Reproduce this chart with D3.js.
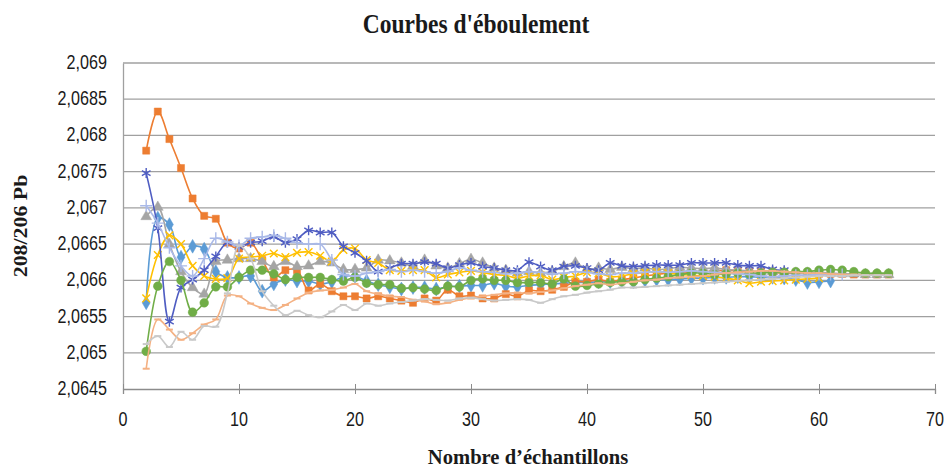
<!DOCTYPE html>
<html>
<head>
<meta charset="utf-8">
<script src="https://cdn.jsdelivr.net/npm/d3@7"></script>
<style>
  body { margin: 0; background: #fff; }
  svg { display: block; }
</style>
</head>
<body>
<svg id="chart" width="948" height="471"></svg>
<script>
// x of the first point of every series
const firstSample = 2;

const xTicks = [0, 10, 20, 30, 40, 50, 60, 70];
const yTicks = [2.0645, 2.065, 2.0655, 2.066, 2.0665, 2.067, 2.0675, 2.068, 2.0685, 2.069];

const blueDiamond = [2.06569, 2.06686, 2.06677, 2.06632, 2.06647, 2.06643, 2.06612, 2.06604, 2.06604, 2.06606,
  2.06585, 2.06595, 2.06601, 2.06599, 2.06599, 2.06595, 2.06598, 2.06605, 2.06606, 2.06599,
  2.06594, 2.06591, 2.06588, 2.0659, 2.0659, 2.06588, 2.06591, 2.06592, 2.06593, 2.06593,
  2.06596, 2.06592, 2.06591, 2.06593, 2.06594, 2.06595, 2.06596, 2.06597, 2.06597, 2.06598,
  2.06598, 2.06599, 2.06598, 2.066, 2.06601, 2.06601, 2.06602, 2.06603, 2.06603, 2.06604,
  2.06604, 2.06605, 2.06605, 2.06604, 2.06604, 2.06603, 2.06601, 2.06597, 2.06598, 2.06599];

const orangeSquare = [2.06779, 2.06833, 2.06795, 2.06755, 2.06713, 2.06689, 2.06685, 2.06652, 2.06644, 2.06652,
  2.06628, 2.06604, 2.06614, 2.06614, 2.06586, 2.06595, 2.06585, 2.06578, 2.06578, 2.06575,
  2.06578, 2.06575, 2.06572, 2.06569, 2.06575, 2.06572, 2.06587, 2.06578, 2.06579, 2.06575,
  2.06575, 2.06581, 2.06578, 2.06586, 2.06585, 2.06587, 2.06591, 2.06598, 2.06598, 2.06601,
  2.06598, 2.06601, 2.06603, 2.06606, 2.06608, 2.0661, 2.0661, 2.06612, 2.06612, 2.06613,
  2.06614, 2.06613, 2.06612, 2.06612, 2.06611, 2.0661, 2.0661, 2.0661, 2.06609, 2.06609,
  2.06609, 2.06608, 2.06608, 2.06608, 2.06608];

const grayTriangle = [2.06688, 2.06701, 2.0665, 2.06612, 2.0659, 2.06581, 2.06626, 2.06628, 2.0663, 2.0663,
  2.06626, 2.06619, 2.06626, 2.06619, 2.0662, 2.06626, 2.06624, 2.06615, 2.06615, 2.06617,
  2.06628, 2.06627, 2.06624, 2.0662, 2.06628, 2.0662, 2.06617, 2.06623, 2.06629, 2.06624,
  2.06617, 2.06614, 2.0661, 2.06612, 2.0661, 2.06612, 2.06619, 2.06624, 2.06615, 2.06617,
  2.06615, 2.06618, 2.06616, 2.06617, 2.06615, 2.06616, 2.06618, 2.06617, 2.06616, 2.06617,
  2.06615, 2.06614, 2.06613, 2.06612, 2.06612, 2.06611, 2.0661, 2.0661, 2.06611, 2.0661,
  2.06609, 2.06609, 2.06608, 2.06608, 2.06608];

const yellowCross = [2.06575, 2.06635, 2.06662, 2.0665, 2.0662, 2.06606, 2.06602, 2.06603, 2.0663, 2.06632,
  2.06634, 2.06637, 2.06632, 2.06638, 2.06639, 2.06634, 2.06626, 2.06642, 2.06644, 2.06628,
  2.06624, 2.06614, 2.06613, 2.06614, 2.06614, 2.06604, 2.06608, 2.06611, 2.06613, 2.06611,
  2.06608, 2.06607, 2.06603, 2.06606, 2.06607, 2.06601, 2.06604, 2.06606, 2.06611, 2.0661,
  2.06605, 2.06606, 2.06609, 2.06611, 2.06612, 2.0661, 2.06608, 2.06607, 2.06606, 2.06605,
  2.06603, 2.066, 2.06596, 2.06598, 2.06599, 2.066, 2.06601, 2.06602, 2.06603];

const blueStar = [2.06748, 2.06672, 2.06543, 2.0659, 2.06601, 2.06614, 2.06633, 2.06652, 2.06646, 2.06652,
  2.06654, 2.0666, 2.06652, 2.06657, 2.06669, 2.06666, 2.06666, 2.06647, 2.06638, 2.06627,
  2.06612, 2.06617, 2.06623, 2.06623, 2.06625, 2.06623, 2.06617, 2.06621, 2.06624, 2.06619,
  2.06617, 2.06614, 2.06614, 2.06625, 2.06619, 2.06614, 2.06619, 2.0662, 2.06617, 2.06614,
  2.06624, 2.0662, 2.06619, 2.0662, 2.06621, 2.06621, 2.06621, 2.06624, 2.06624, 2.06624,
  2.06624, 2.06621, 2.0662, 2.0662, 2.06615, 2.06614];

const greenCircle = [2.06502, 2.06592, 2.06626, 2.066, 2.06556, 2.06569, 2.06591, 2.06591, 2.06604, 2.06614,
  2.06614, 2.06609, 2.06601, 2.06604, 2.06604, 2.06604, 2.06601, 2.06599, 2.06604, 2.06596,
  2.06594, 2.06594, 2.06589, 2.0659, 2.06588, 2.06586, 2.06592, 2.06591, 2.066, 2.06602,
  2.066, 2.066, 2.06597, 2.06597, 2.06597, 2.06595, 2.06602, 2.06592, 2.06593, 2.06595,
  2.06597, 2.06598, 2.06598, 2.06601, 2.06603, 2.06605, 2.06608, 2.0661, 2.0661, 2.06608,
  2.06609, 2.0661, 2.06609, 2.0661, 2.06611, 2.06611, 2.06612, 2.06612, 2.06614, 2.06615,
  2.06614, 2.06612, 2.0661, 2.0661, 2.0661];

const lightBluePlus = [2.06703, 2.06679, 2.06645, 2.0662, 2.06606, 2.0663, 2.06658, 2.06653, 2.06648, 2.06658,
  2.0666, 2.06662, 2.06658, 2.06652, 2.0665, 2.0665, 2.06628, 2.06608, 2.06606, 2.0661,
  2.06612, 2.06615, 2.06612, 2.06614, 2.06612, 2.0661, 2.06612, 2.06617, 2.06614, 2.06612,
  2.06611, 2.06609, 2.0661, 2.06612, 2.06611, 2.06609, 2.0661, 2.06612, 2.06611, 2.06609,
  2.06608, 2.0661, 2.0661, 2.06611, 2.06612, 2.06611, 2.06612, 2.06613, 2.06612, 2.06611,
  2.0661, 2.06609, 2.06608, 2.06606, 2.06605, 2.06606, 2.06607, 2.06607, 2.06608, 2.06608,
  2.06608];

const salmonDash = [2.06478, 2.06546, 2.06532, 2.06518, 2.06527, 2.06539, 2.06546, 2.06579, 2.06578, 2.06568,
  2.06562, 2.06559, 2.06566, 2.06575, 2.06583, 2.06586, 2.06587, 2.0659, 2.06595, 2.06585,
  2.06581, 2.06578, 2.06577, 2.06573, 2.06571, 2.06567, 2.06569, 2.06573, 2.06576, 2.06578,
  2.0658, 2.06582, 2.06583, 2.06582, 2.06584, 2.06586, 2.06589, 2.06592, 2.06594, 2.06596,
  2.06594, 2.06596, 2.06598, 2.066, 2.06601, 2.06603, 2.06604, 2.06605, 2.06606, 2.06608,
  2.0661, 2.06611, 2.06612, 2.06613, 2.06613, 2.06612, 2.06611, 2.0661, 2.0661, 2.06609,
  2.06608, 2.06608, 2.06607, 2.06607, 2.06607];

const lightGrayDash = [2.06512, 2.06523, 2.06508, 2.06529, 2.06518, 2.06537, 2.06536, 2.06582, 2.06648, 2.0663,
  2.06585, 2.06565, 2.06552, 2.06558, 2.06552, 2.06549, 2.06557, 2.06566, 2.06559, 2.06568,
  2.06565, 2.06568, 2.0657, 2.06572, 2.06574, 2.06573, 2.06572, 2.06575, 2.06576, 2.06574,
  2.06572, 2.06573, 2.06574, 2.06573, 2.06569, 2.06574, 2.06578, 2.0658, 2.06583, 2.06585,
  2.06587, 2.0659, 2.0659, 2.06591, 2.06592, 2.06593, 2.06594, 2.06595, 2.06596, 2.06597,
  2.06598, 2.06599, 2.066, 2.06601, 2.06602, 2.06603, 2.06604, 2.06605, 2.06606, 2.06606,
  2.06606, 2.06607, 2.06607, 2.06607, 2.06607];

const series = [
  { values: blueDiamond, color: "#5B9BD5", marker: "diamond" },
  { values: orangeSquare, color: "#ED7D31", marker: "square" },
  { values: grayTriangle, color: "#A5A5A5", marker: "triangle" },
  { values: yellowCross, color: "#FFC000", marker: "times" },
  { values: blueStar, color: "#4F5DC2", marker: "asterisk" },
  { values: greenCircle, color: "#70AD47", marker: "circle" },
  { values: lightBluePlus, color: "#A9B9E8", marker: "plus" },
  { values: salmonDash, color: "#F4B183", marker: "dash" },
  { values: lightGrayDash, color: "#C9C9C9", marker: "dash" },
];

const svg = d3.select("#chart");
const margin = { left: 123, right: 13, top: 63, bottom: 82 };
const W = +svg.attr("width"), H = +svg.attr("height");

const x = d3.scaleLinear().domain([0, 70]).range([margin.left, W - margin.right]);
const y = d3.scaleLinear().domain([2.0645, 2.069]).range([H - margin.bottom, margin.top]);

const fmt = d3.formatLocale({ decimal: ",", thousands: " ", grouping: [3], currency: ["", ""] }).format(".4~f");

const sans = "'Liberation Sans', Arial, sans-serif";
const serif = "'Liberation Serif', 'Times New Roman', serif";

// the source picture is a bit taller than wide, so text is stretched a little
function label(g, tx, ty, str, opts) {
  return g.append("text")
    .attr("transform", `translate(${tx},${ty}) rotate(${opts.rotate || 0}) scale(${opts.sx || 1},${opts.sy || 1})`)
    .attr("text-anchor", opts.anchor || "middle")
    .attr("font-family", opts.family)
    .attr("font-weight", opts.weight || "normal")
    .attr("font-size", opts.size)
    .attr("fill", opts.fill || "#1a1a1a")
    .text(str);
}

// gridlines
svg.append("g")
  .selectAll("line")
  .data(yTicks.slice(1))
  .join("line")
  .attr("x1", x(0))
  .attr("x2", x(70))
  .attr("y1", (d) => y(d))
  .attr("y2", (d) => y(d))
  .attr("stroke", "#a0a0a0")
  .attr("stroke-width", 1.3);

// left axis
const yAxis = svg.append("g")
  .attr("transform", `translate(${x(0)},0)`)
  .call(d3.axisLeft(y).tickValues(yTicks).tickFormat("").tickSize(0));
yAxis.select(".domain").attr("stroke", "#a0a0a0").attr("stroke-width", 1.3);
const yLab = svg.append("g");
yTicks.forEach((t) => {
  label(yLab, x(0) - 16, y(t) + 6, fmt(t), { family: sans, size: 17, anchor: "end", sx: 0.95, sy: 1.15 });
});

// bottom axis
const xAxis = svg.append("g")
  .attr("transform", `translate(0,${y(2.0645)})`)
  .call(d3.axisBottom(x).tickValues(xTicks).tickFormat("").tickSize(5));
xAxis.select(".domain").attr("stroke", "#8c8c8c").attr("stroke-width", 1.3);
xAxis.selectAll(".tick line").attr("y1", -5).attr("stroke", "#8c8c8c");
const xLab = svg.append("g");
xTicks.forEach((t) => {
  label(xLab, x(t), y(2.0645) + 37, t, { family: sans, size: 17, sx: 0.95, sy: 1.15 });
});

// titles
label(svg, 476, 33, "Courbes d'éboulement", { family: serif, weight: "bold", size: 24, sx: 0.98, sy: 1.1 });
label(svg, (x(0) + x(70)) / 2 - 1, 464, "Nombre d’échantillons", { family: serif, weight: "bold", size: 20, sx: 1.03, sy: 1.08 });
label(svg, 27, (y(2.069) + y(2.0645)) / 2, "208/206 Pb", { family: serif, weight: "bold", size: 19, rotate: -90, sx: 1.15, sy: 1 });

// series
const line = d3.line()
  .x((d) => x(d.n))
  .y((d) => y(d.v))
  .curve(d3.curveCatmullRom.alpha(0.5));

const shapes = {
  diamond: { type: d3.symbolDiamond, size: 55, fill: true },
  square: { type: d3.symbolSquare, size: 50, fill: true },
  triangle: { type: d3.symbolTriangle, size: 50, fill: true },
  circle: { type: d3.symbolCircle, size: 60, fill: true },
  times: { type: d3.symbolTimes, size: 40, fill: false },
  asterisk: { type: d3.symbolAsterisk, size: 70, fill: false },
  plus: { type: d3.symbolPlus, size: 50, fill: false },
};

const plot = svg.append("g");
series.forEach((s) => {
  const pts = s.values.map((v, i) => ({ n: i + firstSample, v }));
  const g = plot.append("g");
  g.append("path")
    .datum(pts)
    .attr("d", line)
    .attr("fill", "none")
    .attr("stroke", s.color)
    .attr("stroke-width", 1.6);

  if (s.marker === "dash") {
    g.selectAll("line")
      .data(pts)
      .join("line")
      .attr("x1", (d) => x(d.n) - 3.5)
      .attr("x2", (d) => x(d.n) + 3.5)
      .attr("y1", (d) => y(d.v))
      .attr("y2", (d) => y(d.v))
      .attr("stroke", s.color)
      .attr("stroke-width", 2);
  } else {
    const sh = shapes[s.marker];
    g.selectAll("path.m")
      .data(pts)
      .join("path")
      .attr("class", "m")
      .attr("transform", (d) => `translate(${x(d.n)},${y(d.v)})`)
      .attr("d", d3.symbol().type(sh.type).size(sh.size))
      .attr("fill", sh.fill ? s.color : "none")
      .attr("stroke", s.color)
      .attr("stroke-width", sh.fill ? 0.5 : 1.4);
  }
});
</script>
</body>
</html>
